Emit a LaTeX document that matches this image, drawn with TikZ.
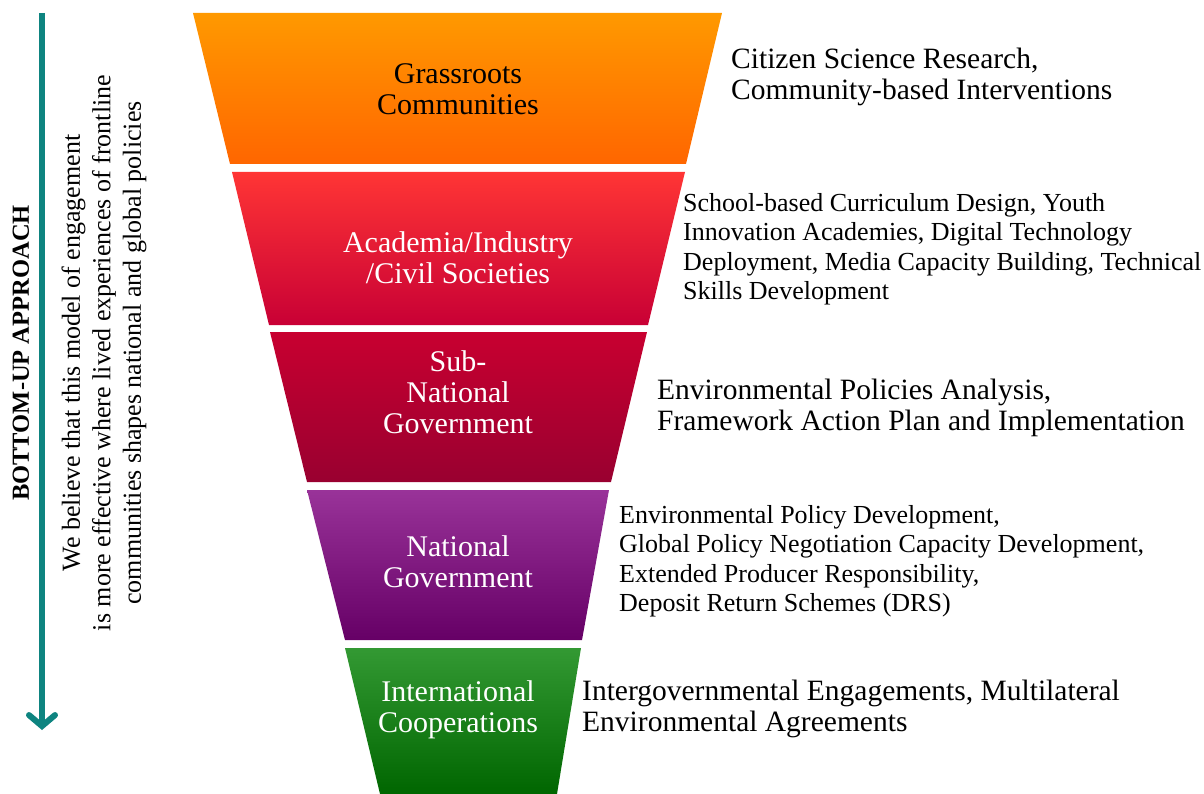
\documentclass[tikz,border=0pt]{standalone}
\usepackage{fontspec}
\setmainfont{Liberation Serif}
\usetikzlibrary{arrows.meta}
\definecolor{tealarrow}{RGB}{14,132,128}
\definecolor{orT}{RGB}{255,153,0}
\definecolor{orB}{RGB}{255,102,0}
\definecolor{rdT}{RGB}{255,53,53}
\definecolor{rdB}{RGB}{200,0,53}
\definecolor{crT}{RGB}{200,0,48}
\definecolor{crB}{RGB}{153,0,48}
\definecolor{puT}{RGB}{153,51,153}
\definecolor{puB}{RGB}{102,0,102}
\definecolor{grT}{RGB}{51,153,51}
\definecolor{grB}{RGB}{0,102,0}
\tikzset{
  lbl/.style={align=center, inner sep=0, font=\fontsize{30}{31}\selectfont},
  side/.style={align=left, anchor=west, inner sep=0, font=\fontsize{29.5}{31}\selectfont},
  sidesmall/.style={align=left, anchor=west, inner sep=0, font=\fontsize{26}{29.5}\selectfont},
}
\begin{document}
\begin{tikzpicture}[x=1pt,y=-1pt]
\useasboundingbox (0,0) rectangle (1204,794);
% funnel bands
\shade[top color=orT, bottom color=orB] (193,13) -- (722,13) -- (686,164) -- (230,164) -- cycle;
\shade[top color=rdT, bottom color=rdB] (232,172) -- (685,172) -- (648,325) -- (269,325) -- cycle;
\shade[top color=crT, bottom color=crB] (270,332) -- (647,332) -- (611,482) -- (307,482) -- cycle;
\shade[top color=puT, bottom color=puB] (307,490) -- (609,490) -- (582,640) -- (345,640) -- cycle;
\shade[top color=grT, bottom color=grB] (345,648) -- (581,648) -- (557,794) -- (380,794) -- cycle;
% funnel labels
\node[lbl, text=black] (l1) at (458,89) {Grassroots\\Communities};
\node[lbl, text=white] (l2) at (458,258) {Academia/Industry\\/Civil Societies};
\node[lbl, text=white] (l3) at (458,392) {Sub-\\National\\Government};
\node[lbl, text=white] (l4) at (458,562) {National\\Government};
\node[lbl, text=white] (l5) at (458,710) {International\\Cooperations};
% side texts
\node[side] (r1) at (731,77) {Citizen Science Research,\\Community-based Interventions};
\node[sidesmall] (r2) at (683,249) {School-based Curriculum Design, Youth\\Innovation Academies, Digital Technology\\Deployment, Media Capacity Building, Technical\\Skills Development};
\node[side] (r3) at (657,408) {Environmental Policies Analysis,\\Framework Action Plan and Implementation};
\node[sidesmall] (r4) at (619,561) {Environmental Policy Development,\\Global Policy Negotiation Capacity Development,\\Extended Producer Responsibility,\\Deposit Return Schemes (DRS)};
\node[side] (r5) at (582,709) {Intergovernmental Engagements, Multilateral\\Environmental Agreements};
% left arrow
\coordinate (atop) at (42,13);
\coordinate (abot) at (42,730);
\draw[tealarrow, line width=6, -{Straight Barb[length=11pt 0 0, width=26pt 0 0, line cap=round]}] (atop) -- (abot);
\node[rotate=90, font=\fontsize{24.5}{26}\selectfont\bfseries, inner sep=0] (title) at (21,353) {BOTTOM-UP APPROACH};
\node[rotate=90, align=center, font=\fontsize{26}{30.5}\selectfont, inner sep=0] (para) at (104,353) {We believe that this model of engagement\\is more effective where lived experiences of frontline\\communities shapes national and global policies};
\end{tikzpicture}
\end{document}
